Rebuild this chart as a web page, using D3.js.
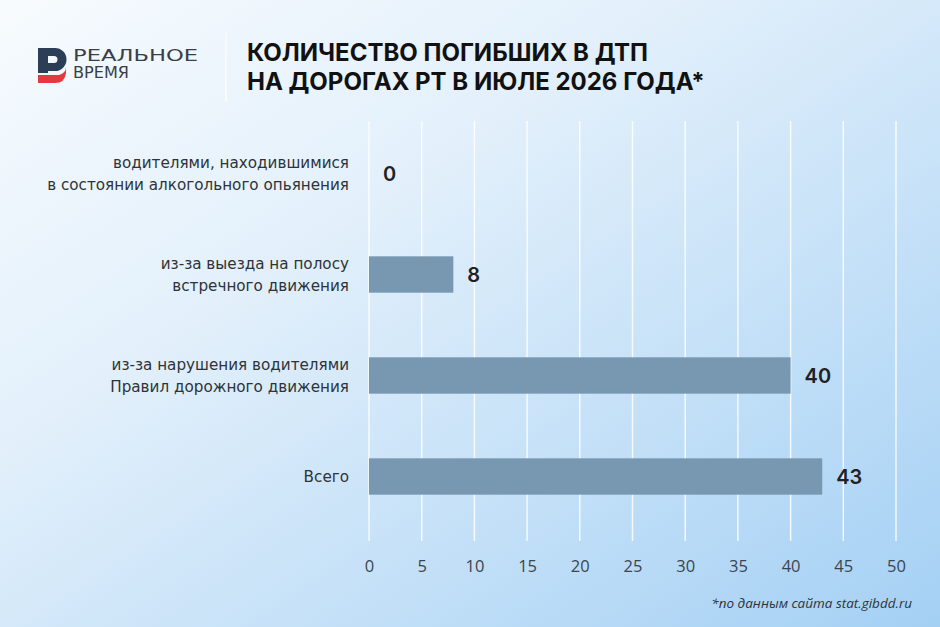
<!DOCTYPE html>
<html>
<head>
<meta charset="utf-8">
<script src="https://cdn.jsdelivr.net/npm/d3@7"></script>
<style>
  body { margin: 0; padding: 0; }
  svg { display: block; }
</style>
</head>
<body>
<svg width="940" height="627"></svg>
<script>
let svg = d3.select("svg"),
    width = +svg.attr("width"),
    height = +svg.attr("height");

// data
let categories = [
    ["водителями, находившимися", "в состоянии алкогольного опьянения"],
    ["из-за выезда на полосу", "встречного движения"],
    ["из-за нарушения водителями", "Правил дорожного движения"],
    ["Всего"]
];
let values = [0, 8, 40, 43];
let tickValues = [0, 5, 10, 15, 20, 25, 30, 35, 40, 45, 50];
let titleLines = ["КОЛИЧЕСТВО ПОГИБШИХ В ДТП", "НА ДОРОГАХ РТ В ИЮЛЕ 2026 ГОДА*"];
let logoLines = ["РЕАЛЬНОЕ", "ВРЕМЯ"];
let footnote = "*по данным сайта stat.gibdd.ru";

let defs = svg.append("defs");

// background gradient, whitish top-left to light blue bottom-right
let bg = defs.append("linearGradient")
    .attr("id", "bg")
    .attr("x1", "0").attr("y1", "0")
    .attr("x2", "1").attr("y2", "1");
bg.append("stop").attr("offset", "0%").attr("stop-color", "#f7fbfe");
bg.append("stop").attr("offset", "35%").attr("stop-color", "#e3f0fb");
bg.append("stop").attr("offset", "100%").attr("stop-color", "#a4d0f4");

svg.append("rect")
    .attr("width", width)
    .attr("height", height)
    .attr("fill", "url(#bg)");

// logo
let logo = svg.append("g").attr("class", "logo");
logo.append("path")
    .attr("d", "M38,48 H55 A11.5,11.5 0 0 1 55,71 H48 V73 H38 Z M48,56 V63 H54 A3.5,3.5 0 0 0 54,56 Z")
    .attr("fill", "#2c3e55")
    .attr("fill-rule", "evenodd");
logo.append("path")
    .attr("d", "M38,75 H59 Q66,73 66,67 L66,73 Q65,83 55,83 H38 Z")
    .attr("fill", "#e23b3f");
logo.selectAll("text.logoText")
    .data(logoLines).enter().append("text")
        .attr("class", "logoText")
        .attr("x", 73)
        .attr("y", (d, i) => 61 + i * 17)
        .attr("font-family", "'DejaVu Sans', sans-serif")
        .attr("font-size", "15px")
        .attr("font-weight", 400)
        .attr("fill", "#3a3f47")
        .attr("textLength", (d, i) => i === 0 ? 125 : 56)
        .attr("lengthAdjust", "spacingAndGlyphs")
        .text(d => d);

svg.append("line")
    .attr("x1", 226).attr("x2", 226)
    .attr("y1", 32).attr("y2", 102)
    .attr("stroke", "#ffffff")
    .attr("stroke-width", 1.5)
    .attr("opacity", 0.8);

// title
svg.append("g")
    .selectAll("text")
    .data(titleLines).enter().append("text")
        .attr("x", 247)
        .attr("y", (d, i) => 61 + i * 29)
        .attr("font-family", "Inter, 'Open Sans', sans-serif")
        .attr("font-size", "24px")
        .attr("font-weight", 700)
        .attr("fill", "#111")
        .text(d => d);

// scales
let x = d3.scaleLinear()
    .domain([0, 50])
    .range([369, 896]);

let y = d3.scaleBand()
    .domain(d3.range(categories.length))
    .range([123, 527])
    .paddingInner(0.64)
    .paddingOuter(0.32);

// gridlines
svg.append("g")
    .attr("class", "grid")
    .selectAll("line")
    .data(tickValues).enter().append("line")
        .attr("x1", d => x(d))
        .attr("x2", d => x(d))
        .attr("y1", 121)
        .attr("y2", 541)
        .attr("stroke", "#ffffff")
        .attr("stroke-width", 1.5)
        .attr("opacity", 0.85);

// axis tick labels
let xAxis = d3.axisBottom(x)
    .tickValues(tickValues)
    .tickSize(0)
    .tickPadding(0);

let axisG = svg.append("g")
    .attr("transform", "translate(0,560)")
    .call(xAxis);
axisG.select(".domain").remove();
axisG.selectAll("text")
    .attr("font-family", "'Open Sans', 'Liberation Sans', sans-serif")
    .attr("font-size", "16.5px")
    .attr("fill", "#3b4550");

// bars
svg.append("g")
    .attr("class", "bars")
    .selectAll("rect")
    .data(values).enter().append("rect")
        .attr("x", x(0))
        .attr("y", (d, i) => y(i))
        .attr("width", d => x(d) - x(0))
        .attr("height", y.bandwidth())
        .attr("fill", "#7897b0");

// value labels
svg.append("g")
    .attr("class", "values")
    .selectAll("text")
    .data(values).enter().append("text")
        .attr("x", d => x(d) + 14)
        .attr("y", (d, i) => y(i) + y.bandwidth() / 2)
        .attr("dy", "0.36em")
        .attr("font-family", "Inter, 'Open Sans', sans-serif")
        .attr("font-size", "20px")
        .attr("font-weight", 600)
        .attr("fill", "#222")
        .text(d => d);

// category labels
let catG = svg.append("g")
    .attr("class", "categories")
    .selectAll("text")
    .data(categories).enter().append("text")
        .attr("x", 349)
        .attr("y", (d, i) => y(i) + y.bandwidth() / 2)
        .attr("text-anchor", "end")
        .attr("font-family", "'DejaVu Sans', sans-serif")
        .attr("font-size", "15.2px")
        .attr("fill", "#2e3338");

catG.selectAll("tspan")
    .data(d => d.map(line => ({line: line, n: d.length}))).enter().append("tspan")
        .attr("x", 349)
        .attr("dy", (d, i) => i === 0 ? (0.36 - (d.n - 1) * 0.72) + "em" : "1.44em")
        .text(d => d.line);

// footnote
svg.append("text")
    .attr("x", 912)
    .attr("y", 608)
    .attr("text-anchor", "end")
    .attr("font-family", "'Open Sans', sans-serif")
    .attr("font-style", "italic")
    .attr("font-size", "13.5px")
    .attr("fill", "#2e3338")
    .text(footnote);
</script>
</body>
</html>
